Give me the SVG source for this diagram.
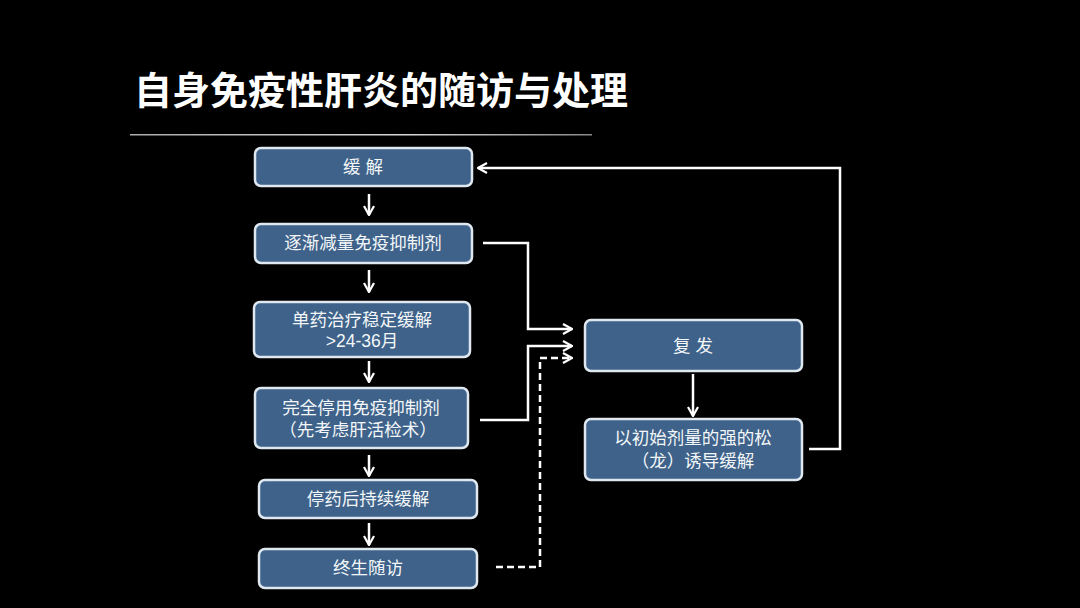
<svg xmlns="http://www.w3.org/2000/svg" width="1080" height="608" viewBox="0 0 1080 608">
<defs>
<linearGradient id="rule" x1="0" x2="1" y1="0" y2="0">
<stop offset="0" stop-color="#aaaaaa"/>
<stop offset="0.6" stop-color="#d8d8d8"/>
<stop offset="1" stop-color="#888888"/>
</linearGradient>
<marker id="ah" viewBox="0 0 12 12" refX="11" refY="6" markerWidth="12" markerHeight="12" markerUnits="userSpaceOnUse" orient="auto">
<polyline points="2,1 11,6 2,11" fill="none" stroke="#ffffff" stroke-width="2.2" stroke-linejoin="miter"/>
</marker>
<style>
.box{fill:#3e6289;stroke:#dfe8f0;stroke-width:2.5}
.t{font-family:"Liberation Sans","Noto Sans CJK SC",sans-serif;font-size:17.5px;fill:#f4f7fa;text-anchor:middle}
.c{fill:none;stroke:#ffffff;stroke-width:2.5}
.d{stroke-dasharray:7,4}
</style>
</defs>
<rect width="1080" height="608" fill="#000000"/>
<text x="134" y="104" font-family="'Noto Sans CJK SC',sans-serif" font-weight="bold" font-size="38" fill="#ffffff">自身免疫性肝炎的随访与处理</text>
<rect x="130" y="134" width="462" height="1.5" fill="url(#rule)"/>

<g id="n1"><rect class="box" x="255" y="148" width="217" height="38" rx="6"/><text class="t" x="363" y="173">缓 解</text></g>
<g id="n2"><rect class="box" x="255" y="224" width="217" height="39" rx="6"/><text class="t" x="363" y="249">逐渐减量免疫抑制剂</text></g>
<g id="n3"><rect class="box" x="254" y="302" width="216" height="55" rx="6"/><text class="t" x="362" y="326">单药治疗稳定缓解</text><text class="t" x="362" y="347">&gt;24-36月</text></g>
<g id="n4"><rect class="box" x="255" y="388" width="213" height="60" rx="6"/><text class="t" x="361" y="414">完全停用免疫抑制剂</text><text class="t" x="358" y="436">（先考虑肝活检术）</text></g>
<g id="n5"><rect class="box" x="259" y="480" width="218" height="38" rx="6"/><text class="t" x="368" y="505">停药后持续缓解</text></g>
<g id="n6"><rect class="box" x="259" y="549" width="218" height="39" rx="6"/><text class="t" x="368" y="574">终生随访</text></g>
<g id="n7"><rect class="box" x="585" y="320" width="217" height="51" rx="6"/><text class="t" x="693" y="352">复 发</text></g>
<g id="n8"><rect class="box" x="585" y="419" width="217" height="61" rx="6"/><text class="t" x="693" y="444">以初始剂量的强的松</text><text class="t" x="693" y="467">（龙）诱导缓解</text></g>

<g id="connectors">
<line class="c" x1="369" y1="194" x2="369" y2="215" marker-end="url(#ah)"/>
<line class="c" x1="369" y1="270" x2="369" y2="292" marker-end="url(#ah)"/>
<line class="c" x1="369" y1="361" x2="369" y2="382" marker-end="url(#ah)"/>
<line class="c" x1="369" y1="455" x2="369" y2="476" marker-end="url(#ah)"/>
<line class="c" x1="369" y1="523" x2="369" y2="545" marker-end="url(#ah)"/>
<polyline class="c" points="483,243 528,243 528,329 572,329" marker-end="url(#ah)"/>
<polyline class="c" points="480,420 528,420 528,346 572,346" marker-end="url(#ah)"/>
<polyline class="c d" points="496,567 540,567 540,358 572,358" marker-end="url(#ah)"/>
<line class="c" x1="693" y1="374" x2="693" y2="416" marker-end="url(#ah)"/>
<polyline class="c" points="809,449 840,449 840,168 478,168" marker-end="url(#ah)"/>
</g>
</svg>
